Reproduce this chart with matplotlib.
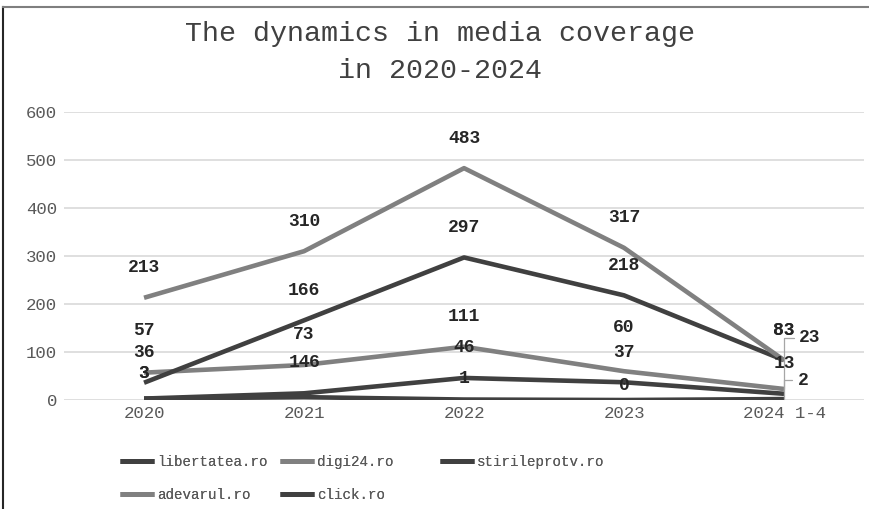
import numpy as np
import matplotlib
matplotlib.use("Agg")
import matplotlib.pyplot as plt
from matplotlib.lines import Line2D

# data
years = ["2020", "2021", "2022", "2023", "2024 1-4"]
libertatea = [3, 14, 46, 37, 13]
digi24 = [57, 73, 111, 60, 23]
stirileprotv = [36, 166, 297, 218, 83]
adevarul = [213, 310, 483, 317, 83]
click = [3, 6, 1, 0, 2]

names = ["libertatea.ro", "digi24.ro", "stirileprotv.ro", "adevarul.ro", "click.ro"]
series = [libertatea, digi24, stirileprotv, adevarul, click]
dark = "#404040"
light = "#808080"
colors = [dark, light, dark, light, dark]

# label offsets in pixels (dx, dy); default is straight above the point
label_off = {(0, 0): (0, 25), (4, 0): (0, 25),
             (1, 0): (0, 42), (1, 3): (0, 44),
             (0, 1): (-5, 31), (4, 1): (10, 35),
             (4, 2): (0, 21), (4, 3): (0, 15),
             (1, 4): (26, 51), (4, 4): (19, 19)}
leaders = {(1, 4), (4, 4)}

font = "Liberation Mono"

fig = plt.figure(figsize=(8.69, 5.09), dpi=100)
ax = fig.add_axes([0.0737, 0.2141, 0.9206, 0.5659])

x = np.arange(len(years))
handles = []
for i, (name, vals, c) in enumerate(zip(names, series, colors)):
    ln, = ax.plot(x, vals, color=c, lw=3.3, solid_capstyle="butt", label=name, zorder=3)
    handles.append(ln)
    for j, v in enumerate(vals):
        dx, dy = label_off.get((i, j), (0, 30))
        arrow = None
        if (i, j) in leaders:
            arrow = dict(arrowstyle="-", color="#a6a6a6", lw=0.9, shrinkA=2, shrinkB=0,
                         connectionstyle="angle,angleA=0,angleB=90,rad=0")
        ax.annotate(str(v), (x[j], v), xytext=(dx, dy), textcoords="offset pixels",
                    ha="center", va="center", fontsize=13, fontweight="bold",
                    family=font, color="#262626", zorder=4, arrowprops=arrow)

ax.set_xlim(-0.5, len(years) - 0.5)
ax.set_ylim(0, 600)
ax.set_yticks(np.arange(0, 601, 100))
ax.set_xticks(x)
ax.set_xticklabels(years)
ax.yaxis.grid(True, color="#d9d9d9", lw=1.2)
ax.set_axisbelow(True)
for s in ax.spines.values():
    s.set_visible(False)
ax.tick_params(length=0, labelsize=12.5, labelcolor="#595959")
ax.tick_params(axis="x", pad=4)
ax.tick_params(axis="y", pad=5)
for lab in ax.get_xticklabels() + ax.get_yticklabels():
    lab.set_family(font)

fig.text(0.506, 0.896, "The dynamics in media coverage\nin 2020-2024", ha="center", va="center",
         fontsize=20.4, family=font, color="#404040", linespacing=1.55)

# legend, one column per legend so columns sit at even spacing
columns = [[0, 3], [1, 4], [2]]
col_x = [120, 280, 440]
for col, cx in zip(columns, col_x):
    leg = fig.legend([handles[k] for k in col], [names[k] for k in col],
                     loc="upper left", bbox_to_anchor=(cx / 869, 0.106), frameon=False,
                     borderpad=0, borderaxespad=0,
                     prop={"family": font, "size": 10.2}, handlelength=2.4, handletextpad=0.2,
                     labelspacing=1.35, labelcolor="#595959")
    for h in leg.legend_handles:
        h.set_linewidth(3.6)
    fig.add_artist(leg)

# chart frame (top and left edges visible)
fig.add_artist(Line2D([0.004, 0.004], [0, 0.986], transform=fig.transFigure, color="#262626", lw=1.5))
fig.add_artist(Line2D([0.004, 1], [0.986, 0.986], transform=fig.transFigure, color="#7f7f7f", lw=1.5))

fig.savefig("out.png", dpi=100)
